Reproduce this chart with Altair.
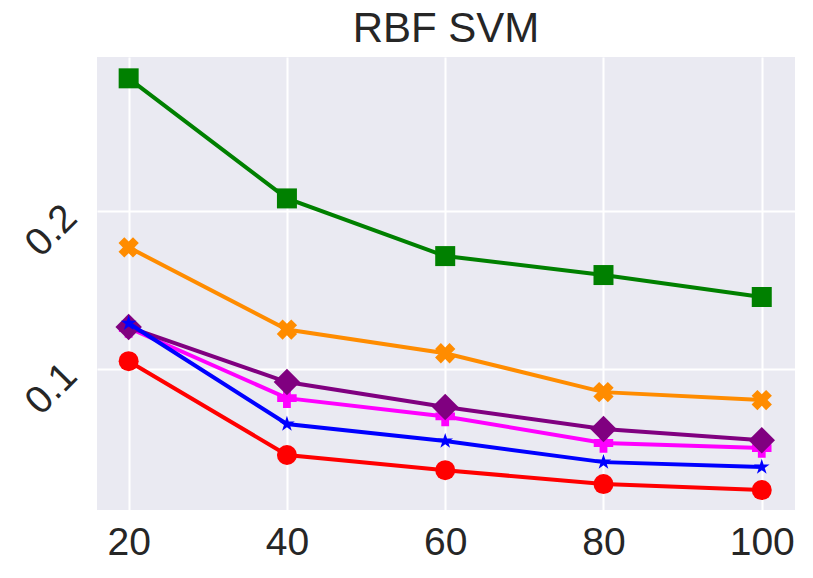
import altair as alt
import pandas as pd

x_vals = [20, 40, 60, 80, 100]
green = [0.284, 0.208, 0.1715, 0.1595, 0.1456]
orange = [0.177, 0.125, 0.110, 0.0854, 0.0804]
red = [0.105, 0.0456, 0.036, 0.0272, 0.0234]
magenta = [0.126, 0.0816, 0.070, 0.0532, 0.050]
purple = [0.1266, 0.0918, 0.076, 0.062, 0.055]
blue = [0.129, 0.0652, 0.0544, 0.0411, 0.038]

STAR = ("M0,-1L0.2245,-0.309L0.951,-0.309L0.363,0.118L0.588,0.809L0,0.382"
        "L-0.588,0.809L-0.363,0.118L-0.951,-0.309L-0.2245,-0.309Z")

series = [
    ("green", green, "#008000", "square", 0, 400),
    ("orange", orange, "#ff8c00", "cross", 45, 420),
    ("red", red, "#ff0000", "circle", 0, 400),
    ("magenta", magenta, "#ff00ff", "cross", 0, 380),
    ("purple", purple, "#800080", "diamond", 0, 700),
    ("blue", blue, "#0000ff", STAR, 0, 270),
]

xs = alt.Scale(domain=[16, 104.2], nice=False, zero=False)
ys = alt.Scale(domain=[0.0108, 0.2975], nice=False, zero=False)
xax = alt.Axis(values=x_vals, title=None, orient="bottom", labelFontSize=39, labelPadding=13, ticks=False,
               domain=False, gridColor="white", gridWidth=2, labelColor="#262626",
               labelFont="Liberation Sans")
yax = alt.Axis(values=[0.1, 0.2], format=".1f", title=None, orient="left", labelFontSize=39,
               labelAngle=-45, labelAlign="right", labelBaseline="middle", labelPadding=27,
               ticks=False, domain=False, gridColor="white", gridWidth=2, labelColor="#262626",
               labelFont="Liberation Sans")

layers = []
for name, vals, color, shape, ang, size in series:
    df = pd.DataFrame({"x": x_vals, "y": vals})
    base = alt.Chart(df)
    line = base.mark_line(color=color, strokeWidth=4).encode(
        x=alt.X("x:Q", scale=xs, axis=xax), y=alt.Y("y:Q", scale=ys, axis=yax))
    pts = base.mark_point(filled=True, opacity=1, color=color, shape=shape, angle=ang, size=size).encode(
        x=alt.X("x:Q", scale=xs, axis=xax), y=alt.Y("y:Q", scale=ys, axis=yax))
    layers += [line, pts]

chart = alt.layer(*layers).properties(
    width=698, height=453,
    title=alt.Title("RBF SVM", fontSize=42, font="Liberation Sans", fontWeight="normal", color="#262626",
                    anchor="middle", offset=6),
    autosize=alt.AutoSizeParams(type="none"),
    padding={"left": 89, "top": 49, "right": 8, "bottom": 60},
    background="white",
).configure_view(fill="#eaeaf2", strokeWidth=0)

chart.save("out.html", embed_options={"renderer": "svg", "actions": False})
